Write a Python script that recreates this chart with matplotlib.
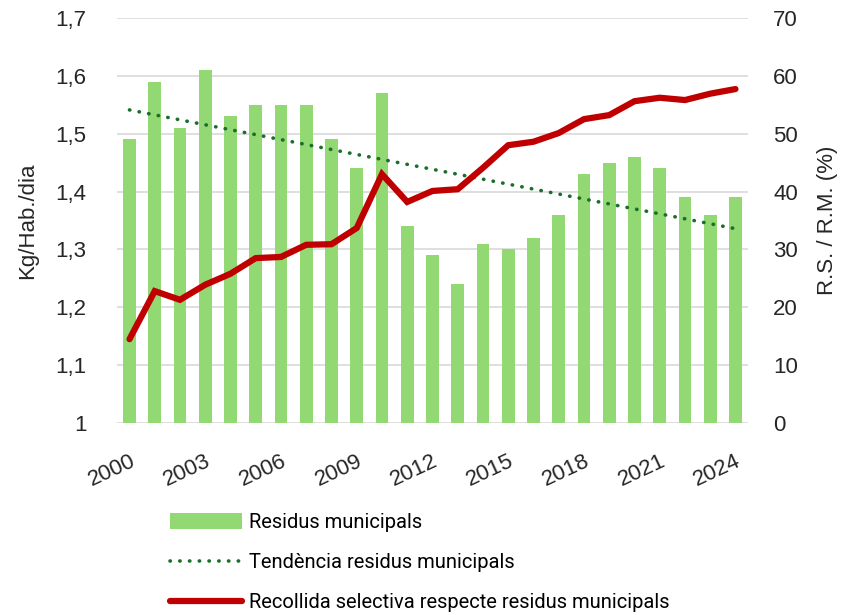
import numpy as np
import matplotlib
matplotlib.use("Agg")
import matplotlib.pyplot as plt
from matplotlib.lines import Line2D
from matplotlib.patches import Patch

years = list(range(2000, 2025))
residus = [1.49, 1.59, 1.51, 1.61, 1.53, 1.55, 1.55, 1.55, 1.49, 1.44,
           1.57, 1.34, 1.29, 1.24, 1.31, 1.30, 1.32, 1.36, 1.43, 1.45,
           1.46, 1.44, 1.39, 1.36, 1.39]
recollida = [14.5, 22.8, 21.3, 23.9, 25.8, 28.5, 28.7, 30.8, 30.9, 33.7,
             43.0, 38.2, 40.1, 40.4, 44.1, 48.0, 48.6, 50.1, 52.5, 53.2,
             55.6, 56.2, 55.8, 56.9, 57.7]

BAR = "#92D873"
TREND = "#1B6E2B"
RED = "#C00000"
GRID = "#D9D9D9"
TXT = "#262626"

plt.rcParams["font.family"] = ["Liberation Sans", "DejaVu Sans"]

fig = plt.figure(figsize=(8.53, 6.15), dpi=100)
ax = fig.add_axes([0.137, 0.312, 0.740, 0.659])
ax2 = ax.twinx()

x = np.arange(len(years))
ax.bar(x, residus, width=0.5, color=BAR, zorder=2)

# linear trend of the bars
k, b = np.polyfit(x, residus, 1)
ax.plot(x, k * x + b, color=TREND, lw=2.6, linestyle=(0, (0.1, 2.6)),
        dash_capstyle="round", zorder=3)

ax2.plot(x, recollida, color=RED, lw=4.5, solid_capstyle="round",
         solid_joinstyle="miter", zorder=4)

ax.set_xlim(-0.5, len(years) - 0.5)
ax.set_ylim(1.0, 1.7)
ax.set_yticks(np.arange(1.0, 1.71, 0.1))
ax.set_yticklabels(["1", "1,1", "1,2", "1,3", "1,4", "1,5", "1,6", "1,7"])
ax2.set_ylim(0, 70)
ax2.set_yticks(range(0, 71, 10))

ax.set_xticks(x[::3])
ax.set_xticklabels([str(y) for y in years[::3]], rotation=25,
                   ha="right", va="top", rotation_mode="anchor")

ax.grid(axis="y", color=GRID, lw=1.2, zorder=0)
ax.set_axisbelow(True)
for a in (ax, ax2):
    for s in a.spines.values():
        s.set_visible(False)
    a.tick_params(length=0, labelsize=16, colors=TXT)
ax.tick_params(axis="y", pad=22)
ax.tick_params(axis="x", pad=20)
ax2.tick_params(axis="y", pad=18)
ax.set_zorder(ax2.get_zorder() - 1)
ax.patch.set_visible(False)
ax2.patch.set_visible(False)

ax.set_ylabel("Kg/Hab./dia", fontsize=16, color=TXT, labelpad=12)
ax2.set_ylabel("R.S. / R.M. (%)", fontsize=16, color=TXT, labelpad=14)

handles = [
    Patch(facecolor=BAR, edgecolor="none"),
    Line2D([0], [0], color=TREND, lw=2.6, linestyle=(0, (0.1, 2.6)),
           dash_capstyle="round"),
    Line2D([0], [0], color=RED, lw=4.5, solid_capstyle="round"),
]
labels = ["Residus municipals", "Tendència residus municipals",
          "Recollida selectiva respecte residus municipals"]
fig.legend(handles, labels, loc="upper left", bbox_to_anchor=(0.178, 0.195),
           frameon=False, handlelength=3.6, handleheight=0.8,
           handletextpad=0.3, labelspacing=1.05,
           prop={"family": ["Roboto", "DejaVu Sans"], "size": 14.5})

fig.savefig("out.png", dpi=100, facecolor="white")
